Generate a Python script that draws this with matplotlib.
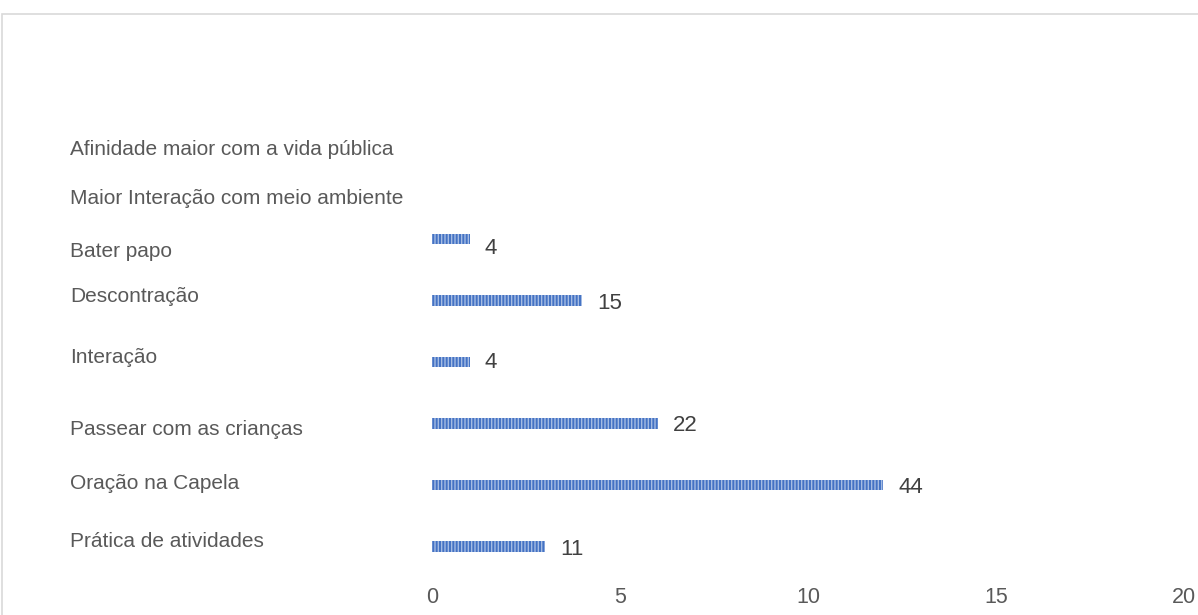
import matplotlib.pyplot as plt
from matplotlib.patches import Rectangle
from matplotlib.transforms import blended_transform_factory

plt.rcParams['font.family'] = ['Liberation Sans', 'DejaVu Sans']
plt.rcParams['hatch.linewidth'] = 1.0

# categorias (de baixo para cima)
categorias = ['Prática de atividades', 'Oração na Capela', 'Passear com as crianças',
              'Interação', 'Descontração', 'Bater papo',
              'Maior Interação com meio ambiente', 'Afinidade maior com a vida pública']
comprimentos = [3, 12, 6, 1, 4, 1, None, None]
rotulos = [11, 44, 22, 4, 15, 4, None, None]
# deslocamento vertical dos nomes e dos valores em relacao as barras
desloc = [-0.08, -0.03, 0.1, -0.08, -0.07, 0.2, 0.33, 0.54]
desloc_val = [0.06, 0.05, 0.03, 0.0, 0.05, 0.15, 0, 0]

fig = plt.figure(figsize=(11.98, 6.15), dpi=100)
ax = fig.add_axes([0.3606, 0.0618, 0.6277, 0.8488])

# moldura cinza clara
fig.patches.append(Rectangle((2 / 1198, -0.05), 1.1, 1 - 14 / 615 + 0.05,
                             transform=fig.transFigure, fill=False,
                             edgecolor='#D9D9D9', linewidth=1.2))

for i, (c, r) in enumerate(zip(comprimentos, rotulos)):
    if c is None:
        continue
    ax.barh(i, c, height=0.17, color='#4472C4', edgecolor='#A5BCE3',
            hatch='|||||', linewidth=0)
    ax.text(c + 0.4, i - desloc_val[i], str(r), va='center', ha='left',
            fontsize=16, color='#404040')

trans = blended_transform_factory(fig.transFigure, ax.transData)
for i, nome in enumerate(categorias):
    ax.text(70 / 1198, i - desloc[i], nome, transform=trans, ha='left',
            va='center', fontsize=15, color='#595959')

ax.set_xlim(0, 20)
ax.set_ylim(-0.5, 8)
ax.set_xticks([0, 5, 10, 15, 20])
ax.set_yticks([])
ax.tick_params(axis='x', length=0, labelsize=15.5, labelcolor='#595959', pad=7)
for s in ax.spines.values():
    s.set_visible(False)

fig.savefig('out.png', dpi=100)
